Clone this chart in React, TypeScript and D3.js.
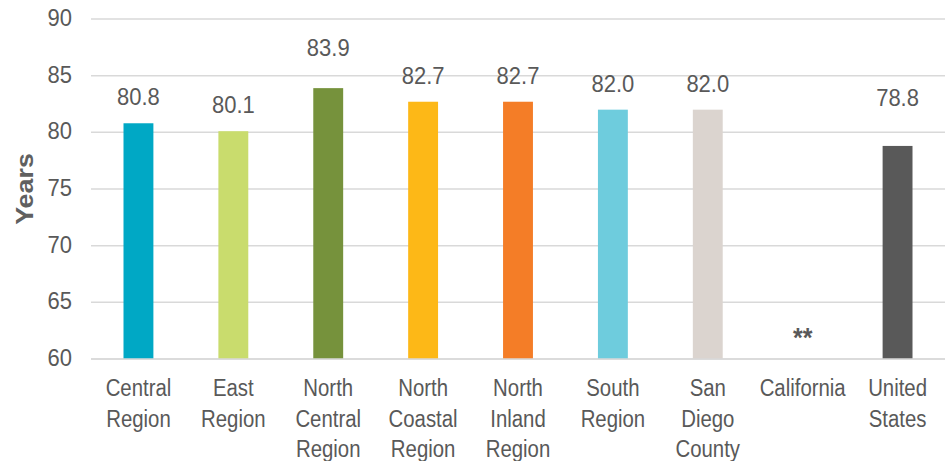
import React from "react";
import * as d3 from "d3";

const categories: string[][] = [
  ["Central", "Region"],
  ["East", "Region"],
  ["North", "Central", "Region"],
  ["North", "Coastal", "Region"],
  ["North", "Inland", "Region"],
  ["South", "Region"],
  ["San", "Diego", "County"],
  ["California"],
  ["United", "States"],
];
const lifeExpectancy: (number | null)[] = [80.8, 80.1, 83.9, 82.7, 82.7, 82.0, 82.0, null, 78.8];
const barColors = ["#00A8C5", "#C9DC6D", "#76923C", "#FDB817", "#F47D27", "#6ECCDD", "#DBD4CF", "#FFFFFF", "#595959"];
const yTicks = [60, 65, 70, 75, 80, 85, 90];
const missingMark = "**";
const yTitle = "Years";

// label placement tweaks (layout only, px)
const labelLift: Record<number, number> = { 2: 14, 8: 22 };

const W = 951;
const H = 461;
const M = { left: 91, right: 6, top: 19, bottom: 102 };
const FONT = "'Liberation Sans', Arial, sans-serif";
const TXT = "#595959";

export default function App() {
  const x = d3
    .scaleBand<number>()
    .domain(categories.map((_, i) => i))
    .range([M.left, W - M.right])
    .paddingInner(0.685)
    .paddingOuter(0.3425);
  const y = d3.scaleLinear().domain([60, 90]).range([H - M.bottom, M.top]);
  const bw = x.bandwidth();

  return (
    <svg
      width={W}
      height={H}
      style={{ position: "absolute", left: 0, top: 0, background: "#fff" }}
      fontFamily={FONT}
    >
      {yTicks.map((t) => (
        <g key={t}>
          <line x1={M.left} x2={W - M.right} y1={y(t)} y2={y(t)} stroke="#D9D9D9" strokeWidth={1.5} />
          <text
            transform={`translate(72,${y(t) + 7}) scale(1,1.1)`}
            textAnchor="end"
            fontSize={22}
            fill={TXT}
          >
            {t}
          </text>
        </g>
      ))}
      <text
        transform={`translate(33,${(y(60) + y(90)) / 2}) rotate(-90) scale(1.12,1)`}
        textAnchor="middle"
        fontSize={24}
        fontWeight="bold"
        fill="#606060"
      >
        {yTitle}
      </text>
      {lifeExpectancy.map((v, i) => {
        const bx = x(i)!;
        const cx = bx + bw / 2;
        if (v === null) {
          return (
            <text key={i} transform={`translate(${cx},${y(60) - 12}) scale(1,1.1)`} textAnchor="middle" fontSize={25} fontWeight="bold" fill={TXT}>
              {missingMark}
            </text>
          );
        }
        const top = y(v);
        const lift = labelLift[i] ?? 0;
        return (
          <g key={i}>
            <rect x={bx} y={top} width={bw} height={y(60) - top} fill={barColors[i]} />
            <text
              transform={`translate(${cx},${top - 18 - lift}) scale(1,1.1)`}
              textAnchor="middle"
              fontSize={22}
              fill={TXT}
            >
              {v.toFixed(1)}
            </text>
          </g>
        );
      })}
      <line x1={M.left} x2={W - M.right} y1={y(60)} y2={y(60)} stroke="#D9D9D9" strokeWidth={1.5} />
      {categories.map((lines, i) => {
        const cx = x(i)! + bw / 2;
        return lines.map((ln, j) => (
          <text
            key={`${i}-${j}`}
            transform={`translate(${cx},${396 + j * 30.5}) scale(0.97,1.15)`}
            textAnchor="middle"
            fontSize={21}
            fill={TXT}
          >
            {ln}
          </text>
        ));
      })}
    </svg>
  );
}
